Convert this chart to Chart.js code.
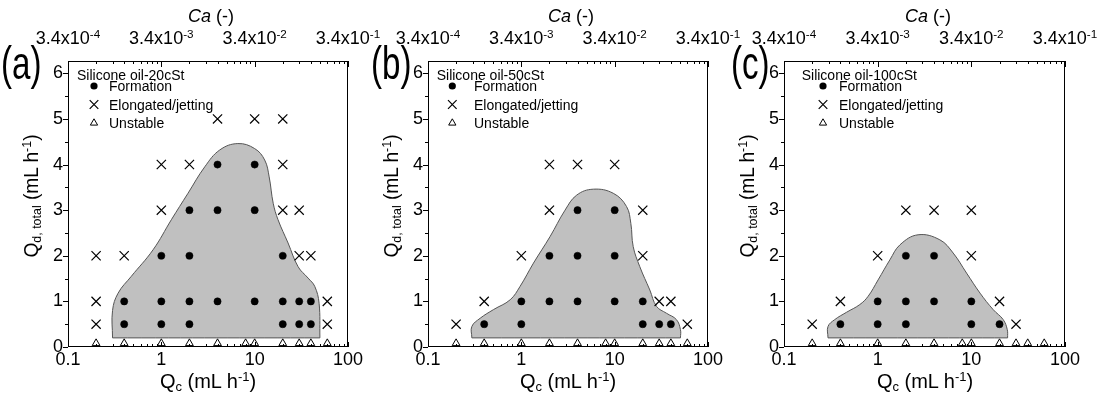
<!DOCTYPE html>
<html><head><meta charset="utf-8">
<script src="https://cdn.jsdelivr.net/npm/chart.js@4.4.1/dist/chart.umd.min.js"></script>
<style>
body{margin:0;background:#fff;}
#wrap{position:relative;width:1104px;height:400px;overflow:hidden;font-family:"Liberation Sans",Arial,sans-serif;color:#000;}
canvas{position:absolute;top:0;}
.t{position:absolute;white-space:nowrap;line-height:1;}
.sub{font-size:0.65em;position:relative;top:0.25em;}
.sup{font-size:0.65em;position:relative;top:-0.55em;}
.letter{font-size:46px;transform:scaleX(0.72);transform-origin:left top;}
.ytitle{font-size:21px;transform:translate(-50%,-50%) rotate(-90deg) scaleX(0.91);}
.xtitle{font-size:20px;transform:translateX(-50%);}
.catitle{font-size:18px;transform:translateX(-50%);}
.catick{font-size:18px;transform:translateX(-50%);}
.leg{font-size:14px;}
</style></head><body><div id="wrap">
<canvas id="cA" width="400" height="400" style="left:0px"></canvas>
<canvas id="cB" width="400" height="400" style="left:360px"></canvas>
<canvas id="cC" width="388" height="400" style="left:716px"></canvas>

<div class="t letter" style="left:1px;top:40px">(a)</div>
<div class="t letter" style="left:371px;top:40px">(b)</div>
<div class="t letter" style="left:731px;top:40px">(c)</div>

<div class="t catitle" style="left:211px;top:7px"><i>Ca</i> (-)</div>
<div class="t catitle" style="left:571px;top:7px"><i>Ca</i> (-)</div>
<div class="t catitle" style="left:928px;top:7px"><i>Ca</i> (-)</div>

<div class="t ytitle" style="left:30px;top:196px">Q<span class="sub">d, total</span> (mL h<span class="sup">-1</span>)</div>
<div class="t ytitle" style="left:390px;top:196px">Q<span class="sub">d, total</span> (mL h<span class="sup">-1</span>)</div>
<div class="t ytitle" style="left:746px;top:196px">Q<span class="sub">d, total</span> (mL h<span class="sup">-1</span>)</div>

<div class="t xtitle" style="left:208px;top:371px">Q<span class="sub">c</span> (mL h<span class="sup">-1</span>)</div>
<div class="t xtitle" style="left:568px;top:371px">Q<span class="sub">c</span> (mL h<span class="sup">-1</span>)</div>
<div class="t xtitle" style="left:925px;top:371px">Q<span class="sub">c</span> (mL h<span class="sup">-1</span>)</div>

<div class="t leg" style="left:77px;top:68px">Silicone oil-20cSt</div>
<div class="t leg" style="left:109px;top:79px">Formation</div>
<div class="t leg" style="left:109px;top:97.7px">Elongated/jetting</div>
<div class="t leg" style="left:109px;top:115.7px">Unstable</div>

<div class="t leg" style="left:436.7px;top:68px">Silicone oil-50cSt</div>
<div class="t leg" style="left:474px;top:79px">Formation</div>
<div class="t leg" style="left:474px;top:97.7px">Elongated/jetting</div>
<div class="t leg" style="left:474px;top:115.7px">Unstable</div>

<div class="t leg" style="left:801.7px;top:68px">Silicone oil-100cSt</div>
<div class="t leg" style="left:839px;top:79px">Formation</div>
<div class="t leg" style="left:839px;top:97.7px">Elongated/jetting</div>
<div class="t leg" style="left:839px;top:115.7px">Unstable</div>
</div>
<script>
// ---------- tick labels ----------
const xTickValues = [0.1, 1, 10, 100];
const xTickLabels = ['0.1', '1', '10', '100'];
const caTickBase = ['3.4x10', '3.4x10', '3.4x10', '3.4x10'];
const caTickExp = ['-4', '-3', '-2', '-1'];
const yTickValues = [0, 1, 2, 3, 4, 5, 6];
const unstableY = 0.08;

// ---------- (a) Silicone oil-20cSt ----------
const a_formation = [[0.4,0.5],[1,0.5],[2,0.5],[20,0.5],[30,0.5],[40,0.5],
  [0.4,1],[1,1],[2,1],[4,1],[10,1],[20,1],[30,1],[40,1],
  [1,2],[2,2],[20,2],[2,3],[4,3],[10,3],[4,4],[10,4]];
const a_elongated = [[0.2,0.5],[60,0.5],[0.2,1],[60,1],[0.2,2],[0.4,2],[30,2],[40,2],
  [1,3],[20,3],[30,3],[1,4],[2,4],[20,4],[4,5],[10,5],[20,5]];
const a_unstableX = [0.2,0.4,1,2,4,8,10,20,30,40,60];
const a_region = [[0.3,0.2],[0.3,0.8],[0.344,1.18],[0.477,1.55],[0.815,2.13],[1.28,2.79],[1.93,3.37],
  [2.92,3.95],[4.23,4.32],[6.6,4.46],[10.0,4.35],[12.8,4.10],[14.3,3.73],[15.8,3.15],[17.8,2.79],
  [22.8,2.28],[29.2,1.76],[37.4,1.51],[44,1.33],[49,0.96],[50,0.2],[50,0.2],[0.3,0.2]];

// ---------- (b) Silicone oil-50cSt ----------
const b_formation = [[0.4,0.5],[1,0.5],[20,0.5],[30,0.5],[40,0.5],
  [1,1],[2,1],[4,1],[10,1],[20,1],[2,2],[4,2],[10,2],[4,3],[10,3]];
const b_elongated = [[0.2,0.5],[60,0.5],[0.4,1],[30,1],[40,1],[1,2],[20,2],[2,3],[20,3],[2,4],[4,4],[10,4]];
const b_unstableX = [0.2,0.4,1,2,4,8,10,20,30,40,60];
const b_region = [[0.295,0.2],[0.295,0.45],[0.362,0.63],[0.503,0.82],[0.759,1.035],[0.97,1.33],[1.35,1.84],
  [2.03,2.42],[2.94,3.0],[3.92,3.33],[5.9,3.46],[9.66,3.37],[13.4,3.08],[14.9,2.71],[15.8,2.2],[18.6,1.76],
  [23.8,1.25],[28.1,0.89],[35.9,0.74],[45.9,0.6],[50.7,0.38],[50.7,0.2],[50.7,0.2],[0.295,0.2]];

// ---------- (c) Silicone oil-100cSt ----------
const c_formation = [[0.4,0.5],[1,0.5],[2,0.5],[10,0.5],[20,0.5],[1,1],[2,1],[4,1],[10,1],[2,2],[4,2]];
const c_elongated = [[0.2,0.5],[30,0.5],[0.4,1],[20,1],[1,2],[10,2],[2,3],[4,3],[10,3]];
const c_unstableX = [0.2,0.4,1,2,4,8,10,20,30,40,60];
const c_region = [[0.295,0.2],[0.295,0.45],[0.348,0.6],[0.464,0.76],[0.644,0.93],[0.79,1.11],[1.01,1.47],
  [1.35,1.91],[1.73,2.24],[2.7,2.46],[4.61,2.35],[6.4,2.06],[8.9,1.62],[12.4,1.18],[17.1,0.82],
  [21.9,0.6],[24.2,0.38],[24.4,0.2],[24.4,0.2],[0.295,0.2]];

// ---------- layout (positions, not data) ----------
const panels = [
  {canvas:'cA', left:0,   padRight:52, formation:a_formation, elongated:a_elongated, unstableX:a_unstableX, region:a_region, legMarkX:26},
  {canvas:'cB', left:360, padRight:52, formation:b_formation, elongated:b_elongated, unstableX:b_unstableX, region:b_region, legMarkX:24.3},
  {canvas:'cC', left:716, padRight:39, formation:c_formation, elongated:c_elongated, unstableX:c_unstableX, region:c_region, legMarkX:39}
];
const minorX = [];
[0.1,1,10].forEach(d => { for (let k = 2; k <= 9; k++) minorX.push(d*k); });
const minorY = [0.5,1.5,2.5,3.5,4.5,5.5];

const toXY = arr => arr.map(([x,y]) => ({x, y}));

const decor = {
  id: 'decor',
  afterDraw(chart, args, opts) {
    const {ctx, chartArea: {left, right, top, bottom}, scales} = chart;
    ctx.save();
    ctx.strokeStyle = '#000';
    ctx.lineWidth = 1;
    ctx.strokeRect(left + 0.5, top + 0.5, right - left - 1, bottom - top - 1);
    ctx.beginPath();
    xTickValues.forEach(v => {
      const px = Math.round(scales.x.getPixelForValue(v)) + 0.5;
      ctx.moveTo(px, bottom); ctx.lineTo(px, bottom - 5);
      ctx.moveTo(px, top); ctx.lineTo(px, top + 6);
    });
    minorX.forEach(v => {
      const px = Math.round(scales.x.getPixelForValue(v)) + 0.5;
      ctx.moveTo(px, bottom); ctx.lineTo(px, bottom - 3);
      ctx.moveTo(px, top); ctx.lineTo(px, top + 3);
    });
    yTickValues.forEach(v => {
      const py = Math.round(scales.y.getPixelForValue(v)) + 0.5;
      ctx.moveTo(left, py); ctx.lineTo(left - 5, py);
    });
    minorY.forEach(v => {
      const py = Math.round(scales.y.getPixelForValue(v)) + 0.5;
      ctx.moveTo(left, py); ctx.lineTo(left - 3, py);
    });
    ctx.stroke();
    // legend markers
    const mx = left + opts.markX;
    ctx.fillStyle = '#000';
    ctx.beginPath(); ctx.arc(mx, 86, 3.6, 0, Math.PI*2); ctx.fill();
    ctx.lineWidth = 1.2;
    ctx.beginPath();
    const r = 4.3;
    ctx.moveTo(mx - r, 104.5 - r); ctx.lineTo(mx + r, 104.5 + r);
    ctx.moveTo(mx + r, 104.5 - r); ctx.lineTo(mx - r, 104.5 + r);
    ctx.stroke();
    ctx.lineWidth = 1;
    ctx.beginPath();
    const tr = 4.2, ty = 123;
    ctx.moveTo(mx, ty - tr); ctx.lineTo(mx + tr*0.866, ty + tr*0.5); ctx.lineTo(mx - tr*0.866, ty + tr*0.5); ctx.closePath();
    ctx.stroke();
    ctx.restore();
  }
};

Chart.defaults.font.family = '"Liberation Sans", Arial, sans-serif';
Chart.defaults.font.size = 18;
Chart.defaults.color = '#000';

const wrap = document.getElementById('wrap');
panels.forEach(p => {
  const chart = new Chart(document.getElementById(p.canvas), {
    type: 'scatter',
    data: { datasets: [
      {label:'Formation', data:toXY(p.formation), pointStyle:'circle', pointRadius:3.6, backgroundColor:'#000', borderColor:'#000', borderWidth:0.5, order:1},
      {label:'Elongated/jetting', data:toXY(p.elongated), pointStyle:'crossRot', pointRadius:6.5, borderColor:'#000', backgroundColor:'#000', borderWidth:1.2, order:2},
      {label:'Unstable', data:p.unstableX.map(x => ({x, y:unstableY})), pointStyle:'triangle', pointRadius:4.5, borderColor:'#000', backgroundColor:'rgba(255,255,255,0)', borderWidth:1, order:3},
      {label:'region', data:toXY(p.region), showLine:true, fill:'shape', tension:0.4, pointRadius:0, borderColor:'#555', borderWidth:1, backgroundColor:'#c0c0c0', order:10}
    ]},
    options: {
      responsive:false, animation:false, events:[],
      layout:{padding:{left:0, right:p.padRight, top:0, bottom:0}},
      plugins:{legend:{display:false}, tooltip:{enabled:false}, decor:{markX:p.legMarkX}},
      scales:{
        x:{type:'logarithmic', position:'bottom', min:0.1, max:100,
           grid:{display:false, drawTicks:false}, border:{display:false},
           ticks:{autoSkip:false, maxRotation:0, padding:2, callback:(v,i) => xTickLabels[i]},
           afterBuildTicks:s => { s.ticks = xTickValues.map(v => ({value:v})); },
           afterFit:s => { s.height = 53; }},
        x2:{type:'logarithmic', axis:'x', position:'top', min:0.1, max:100,
           grid:{display:false, drawTicks:false}, border:{display:false},
           ticks:{display:false},
           afterBuildTicks:s => { s.ticks = xTickValues.map(v => ({value:v})); },
           afterFit:s => { s.height = 61; }},
        y:{type:'linear', min:0, max:6.27,
           grid:{display:false, drawTicks:false}, border:{display:false},
           ticks:{padding:5, callback:v => String(v)},
           afterBuildTicks:s => { s.ticks = yTickValues.map(v => ({value:v})); },
           afterFit:s => { s.width = 68; }}
      }
    },
    plugins:[decor]
  });
  // top (Ca) tick labels placed through the x2 scale
  xTickValues.forEach((v, i) => {
    const d = document.createElement('div');
    d.className = 't catick';
    d.style.left = (p.left + chart.scales.x2.getPixelForValue(v)) + 'px';
    d.style.top = '29px';
    d.innerHTML = caTickBase[i] + '<span class="sup">' + caTickExp[i] + '</span>';
    wrap.appendChild(d);
  });
});
</script>
</body></html>
